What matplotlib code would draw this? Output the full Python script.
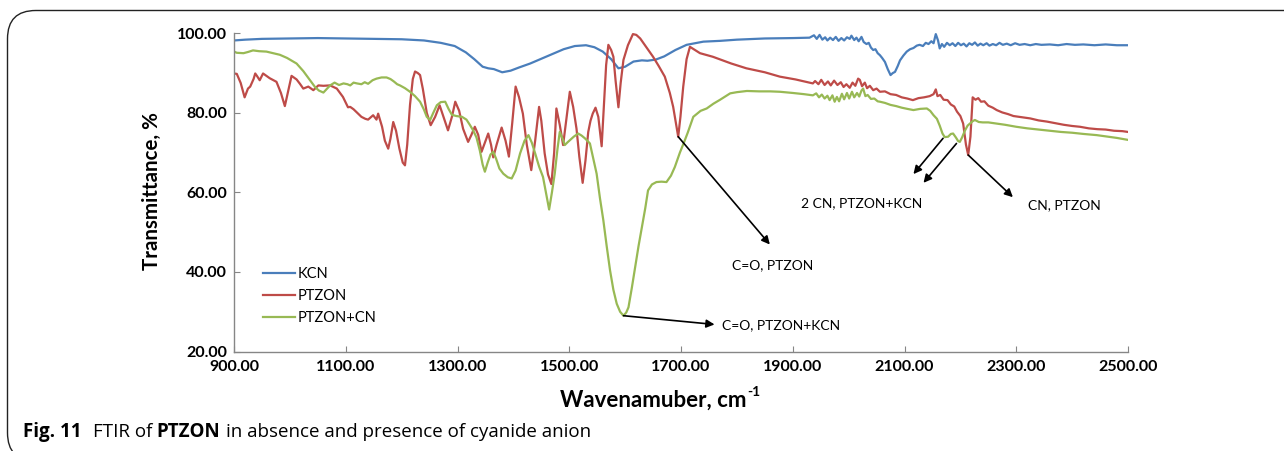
import matplotlib
matplotlib.use("Agg")
import matplotlib.pyplot as plt
from matplotlib.patches import FancyBboxPatch

plt.rcParams['font.family'] = ['Lato', 'DejaVu Sans']

# ---- data (wavenumber, transmittance %) ----
kcn_x = [900, 920, 950, 1000, 1050, 1100, 1150, 1200, 1240, 1270, 1295, 1315,
         1330, 1345, 1355, 1365, 1380, 1395, 1410, 1430, 1450, 1470, 1490, 1510,
         1530, 1545, 1560, 1575, 1588, 1600, 1615, 1630, 1640, 1655, 1670, 1690,
         1710, 1740, 1770, 1800, 1850, 1900, 1930,
         1938, 1943, 1948, 1953, 1958, 1962, 1967, 1972, 1977, 1982, 1987, 1992,
         1997, 2002, 2005, 2010, 2014, 2018, 2023, 2027, 2032, 2036, 2040, 2044,
         2048, 2052, 2056, 2060, 2065, 2070, 2075, 2079, 2083, 2088, 2092, 2098,
         2104, 2110, 2116, 2122, 2127, 2133, 2138, 2143, 2148, 2152, 2156, 2160,
         2163, 2167, 2171, 2176, 2181, 2186, 2191, 2196, 2201, 2206, 2211, 2216,
         2221, 2226, 2231, 2236, 2241, 2247, 2252, 2258, 2264, 2270, 2276, 2283,
         2290, 2298, 2306, 2315, 2325, 2335, 2345, 2360, 2375, 2390, 2405, 2420,
         2440, 2460, 2480, 2500]
kcn_y = [98.2, 98.4, 98.6, 98.7, 98.8, 98.7, 98.6, 98.5, 98.2, 97.6, 96.8, 95.2,
         93.5, 91.6, 91.2, 91.0, 90.2, 90.6, 91.4, 92.4, 93.6, 94.8, 96.0, 96.8,
         97.0, 96.5, 95.4, 93.5, 91.2, 91.6, 92.9, 93.2, 93.1, 93.4, 94.2, 95.8,
         97.1, 97.9, 98.1, 98.4, 98.7, 98.8, 98.9,
         99.5, 98.6, 99.6, 98.4, 99.0, 98.2, 98.9, 98.3, 99.1, 98.1, 98.8, 98.2,
         99.0, 98.6, 99.4, 98.3, 98.9, 98.0, 99.1, 97.8, 97.3, 97.6, 96.4, 95.8,
         96.0, 95.0, 94.5, 93.8, 92.8, 91.0, 89.5, 90.0, 90.3, 91.8, 93.2, 94.4,
         95.4, 96.0, 96.3, 96.9, 97.1, 96.8, 97.6, 97.3, 98.0, 97.5, 99.8, 98.2,
         96.2, 97.3, 96.6, 97.6, 97.0, 97.5, 96.8, 97.6, 97.0, 97.4, 96.7, 97.5,
         97.1, 97.7, 96.9, 97.4, 97.0, 97.5, 96.9, 97.3, 97.0, 97.6, 97.1, 97.4,
         97.0, 97.5, 97.1, 97.3, 97.0, 97.3, 97.1, 97.2, 97.0, 97.3, 97.1, 97.2,
         97.0, 97.2, 97.0, 97.0]

ptzon_x = [900, 905, 912, 919, 925, 929, 935, 938, 941, 946, 952, 958, 964, 976,
           984, 991, 997, 1003, 1012, 1018, 1024, 1033, 1042, 1051, 1060, 1072,
           1084, 1095, 1104, 1108, 1114, 1122, 1128, 1135, 1140, 1149, 1155, 1158,
           1165, 1170, 1176, 1180, 1185, 1190, 1196, 1202, 1206, 1210, 1215, 1220,
           1224, 1229, 1233, 1238, 1245, 1252, 1260, 1268, 1275, 1283, 1290, 1296,
           1303, 1310, 1319, 1325, 1331, 1337, 1343, 1349, 1355, 1360, 1364, 1370,
           1379, 1386, 1392, 1398, 1404, 1410, 1417, 1424, 1432, 1439, 1446, 1450,
           1456, 1462, 1468, 1473, 1477, 1483, 1489, 1495, 1501, 1507, 1513, 1518,
           1524, 1529, 1534, 1538, 1542, 1547, 1552, 1558, 1562, 1566, 1570, 1575,
           1579, 1583, 1588, 1592, 1597, 1605, 1614, 1620, 1627, 1638, 1650, 1660,
           1671, 1680, 1686, 1695, 1699, 1704, 1710, 1716, 1725, 1734, 1757, 1790,
           1817, 1850, 1877, 1905, 1936,
           1940, 1946, 1951, 1957, 1963, 1968, 1974, 1980, 1986, 1991, 1996, 2002,
           2007, 2012, 2017, 2020, 2024, 2029, 2033, 2038, 2044, 2050, 2056, 2065,
           2075, 2085, 2095, 2105, 2115, 2125, 2135, 2145, 2152, 2156, 2159, 2164,
           2170, 2177, 2183, 2189, 2194, 2200, 2205, 2210, 2214, 2218, 2222, 2227,
           2232, 2237, 2243, 2250, 2258, 2265, 2275, 2285, 2295, 2310, 2325, 2340,
           2355, 2370, 2385, 2400, 2414, 2430, 2445, 2460, 2475, 2490, 2500]
ptzon_y = [89.9, 89.8, 87.5, 83.9, 86.1, 86.6, 88.5, 89.9, 89.3, 88.2, 89.9, 89.3,
           88.7, 87.8, 85.0, 81.7, 85.5, 89.3, 88.4, 87.3, 86.1, 86.6, 85.7, 86.9,
           86.8, 86.9, 86.1, 84.0, 81.4, 81.5, 80.9, 79.8, 79.0, 78.5, 78.3, 79.4,
           78.3, 79.8, 76.5, 73.0, 71.0, 73.5, 77.7, 75.5, 71.0, 67.5, 66.8, 72.0,
           82.0, 88.5, 90.4, 90.0, 89.5, 86.0, 80.0, 76.9, 79.0, 81.9, 79.0, 75.6,
           79.0, 82.8, 80.5, 76.0, 72.7, 74.5, 76.5, 74.5, 70.2, 72.5, 74.8, 72.0,
           68.8, 72.0, 76.3, 73.0, 69.0, 77.5, 86.6, 84.0, 79.8, 72.0, 65.6, 73.0,
           81.5, 78.0, 69.8, 64.5, 62.1, 70.0, 81.1, 77.0, 71.9, 78.5, 85.3, 81.5,
           76.0, 69.0, 62.4, 68.0, 75.2, 78.0, 79.8, 81.3, 79.0, 71.6, 82.0, 92.0,
           97.1, 95.8, 94.1, 88.0, 81.4, 87.5, 93.3, 97.0, 99.8, 99.6, 98.7, 96.5,
           94.1, 91.8, 89.1, 85.0, 81.5, 74.0, 79.0, 86.6, 93.5, 96.6, 95.8, 95.0,
           94.1, 92.4, 91.2, 90.2, 89.1, 88.4, 87.4,
           88.0, 87.2, 88.3, 87.0, 87.9, 86.9, 88.1, 87.0, 87.7, 86.5, 87.2, 86.3,
           87.6, 86.8, 88.6, 88.3, 86.7, 87.6, 86.2, 86.8, 85.7, 86.1, 85.3, 85.4,
           84.7, 84.5, 83.9, 83.6, 83.2, 83.7, 83.9, 84.2, 84.7, 85.9, 84.2, 84.5,
           83.3, 83.2, 82.1, 81.6, 80.3, 79.2, 77.3, 72.0, 69.4, 74.0, 83.9, 83.3,
           83.7, 82.8, 82.9, 81.8, 81.3, 80.7, 80.1, 79.7, 79.2, 78.9, 78.6, 78.1,
           77.8, 77.4, 77.0, 76.7, 76.5, 76.1, 75.9, 75.8, 75.5, 75.4, 75.2]

ptzon_cn_x = [900, 905, 917, 925, 934, 945, 958, 970, 982, 995, 1012, 1024, 1036,
              1045, 1052, 1060, 1066, 1072, 1080, 1088, 1096, 1103, 1108, 1114,
              1120, 1128, 1134, 1140, 1148, 1155, 1164, 1173, 1180, 1186, 1192,
              1197, 1206, 1215, 1224, 1233, 1240, 1245, 1251, 1256, 1263, 1270,
              1278, 1284, 1290, 1298, 1308, 1316, 1322, 1328, 1334, 1340, 1345,
              1349, 1354, 1359, 1364, 1369, 1375, 1382, 1390, 1397, 1404, 1412,
              1420, 1427, 1433, 1439, 1446, 1453, 1459, 1464, 1469, 1474, 1479,
              1483, 1488, 1492, 1497, 1501, 1508, 1516, 1522, 1528, 1533, 1537,
              1543, 1549, 1555, 1561, 1567, 1573, 1579, 1585, 1591, 1597, 1602,
              1606, 1612, 1618, 1624, 1630, 1636, 1641, 1648, 1656, 1665, 1674,
              1682, 1689, 1698, 1706, 1712, 1722, 1735, 1746, 1758, 1770, 1788,
              1800, 1818, 1840, 1860, 1877, 1900, 1920, 1936,
              1942, 1947, 1952, 1957, 1962, 1966, 1971, 1975, 1979, 1983, 1988,
              1992, 1997, 2001, 2006, 2010, 2015, 2019, 2023, 2026, 2030, 2034,
              2040, 2046, 2052, 2056, 2065, 2075, 2085, 2095, 2105, 2116, 2128,
              2140, 2146, 2152, 2158, 2163, 2168, 2172, 2178, 2183, 2187, 2192,
              2196, 2199, 2203, 2208, 2213, 2217, 2222, 2226, 2233, 2240, 2250,
              2265, 2280, 2300, 2320, 2340, 2354, 2380, 2400, 2420, 2444, 2460,
              2480, 2500]
ptzon_cn_y = [95.4, 95.1, 95.0, 95.3, 95.7, 95.5, 95.4, 95.0, 94.6, 93.8, 92.4,
              90.5, 88.2, 86.5, 85.6, 85.1, 86.0, 86.9, 87.6, 87.0, 87.4, 87.2,
              86.9, 87.6, 87.4, 87.2, 87.7, 87.3, 88.2, 88.6, 88.9, 88.9, 88.5,
              87.9, 87.2, 86.9, 86.2, 85.3, 84.2, 82.8, 80.8, 79.0, 78.2, 79.8,
              81.9, 82.7, 82.8, 81.0, 79.5, 79.2, 79.0, 78.3, 77.0, 75.6, 73.8,
              70.5, 67.0, 65.2, 67.5, 69.5, 70.2, 68.5, 66.0, 64.7, 63.8, 63.5,
              65.5, 69.8, 73.0, 74.4, 72.5, 69.8, 66.5, 63.9, 59.5, 55.7, 60.0,
              64.7, 71.0, 75.2, 73.5, 71.9, 72.6, 73.1, 74.0, 74.8, 74.3, 73.6,
              72.9, 72.3, 68.5, 64.7, 58.5, 53.0, 46.5, 40.4, 35.5, 32.0, 30.0,
              29.0, 29.8, 31.1, 36.0, 41.2, 46.5, 51.2, 56.0, 60.5, 62.0, 62.6,
              62.7, 62.6, 64.2, 66.4, 70.0, 72.8, 75.0, 79.0, 80.5, 81.1, 82.3,
              83.3, 84.9, 85.2, 85.5, 85.4, 85.4, 85.3, 85.0, 84.7, 84.4,
              84.9, 83.9, 84.6, 83.6, 84.3, 83.2, 84.4, 82.8, 84.0, 82.9, 84.8,
              83.4, 85.0, 83.6, 85.3, 83.9, 85.0, 84.1, 85.6, 86.1, 84.2, 84.5,
              83.5, 83.6, 82.9, 82.8, 82.5, 82.0, 81.7, 81.3, 81.0, 80.7, 81.0,
              81.1, 80.5, 79.4, 78.5, 76.8, 74.8, 73.9, 74.0, 74.7, 74.8, 73.8,
              72.9, 72.7, 73.8, 75.5, 76.8, 77.3, 77.9, 78.2, 77.7, 77.6, 77.6,
              77.3, 77.0, 76.5, 76.1, 75.8, 75.6, 75.2, 75.0, 74.7, 74.4, 74.1,
              73.7, 73.2]

series_names = ["KCN", "PTZON", "PTZON+CN"]
series_colors = ["#4A7EBB", "#BE4B48", "#98B954"]

x_ticks = [900, 1100, 1300, 1500, 1700, 1900, 2100, 2300, 2500]
y_ticks = [20, 40, 60, 80, 100]

W, H = 1284, 451
fig = plt.figure(figsize=(W / 100, H / 100), dpi=100)

# rounded frame around the figure panel (right/bottom run off the image)
frame = FancyBboxPatch((7.5 / W, -10 / H), 1.05, (440.5 + 10) / H,
                       boxstyle="round,pad=0,rounding_size=0.022",
                       transform=fig.transFigure, fill=False,
                       edgecolor="#222222", linewidth=1.0, clip_on=False,
                       mutation_aspect=W / H)
fig.patches.append(frame)

ax = fig.add_axes([234 / W, (H - 351.5) / H, 894 / W, 318.2 / H])

for xs, ys, name, col in zip([kcn_x, ptzon_x, ptzon_cn_x],
                             [kcn_y, ptzon_y, ptzon_cn_y],
                             series_names, series_colors):
    ax.plot(xs, ys, color=col, linewidth=1.6, label=name)

ax.set_xlim(900, 2500)
ax.set_ylim(20, 100)
ax.set_xticks(x_ticks)
ax.set_yticks(y_ticks)
ax.set_xticklabels([f"{v:.2f}" for v in x_ticks], fontweight="bold", fontsize=11.5)
ax.set_yticklabels([f"{v:.2f}" for v in y_ticks], fontweight="bold", fontsize=11.5)

for side in ["top", "right"]:
    ax.spines[side].set_visible(False)
for side in ["left", "bottom"]:
    ax.spines[side].set_color("#868686")
    ax.spines[side].set_linewidth(1.0)
ax.tick_params(axis="both", direction="in", length=4, color="#868686")
ax.tick_params(axis="x", pad=6)
ax.tick_params(axis="y", pad=5)

fig.text(152 / W, 1 - 191 / H, "Transmittance, %", rotation=90,
         ha="center", va="center", fontsize=14.8, fontweight="bold")

ax.legend(loc="upper left", bbox_to_anchor=(0.026, 0.285), frameon=False,
          fontsize=10.5, handlelength=2.2, handletextpad=0.2, labelspacing=0.55,
          borderaxespad=0)

arrow = dict(arrowstyle="-|>", color="black", lw=1.2, mutation_scale=12,
             shrinkA=0, shrinkB=0)
ax.annotate("", xy=(1859, 46.9), xytext=(1695, 74.0), arrowprops=arrow)
ax.text(1864, 41.7, "C=O, PTZON", ha="center", va="center", fontsize=10)
ax.annotate("", xy=(1760, 26.8), xytext=(1597, 29.0), arrowprops=arrow)
ax.text(1773, 26.5, "C=O, PTZON+KCN", ha="left", va="center", fontsize=10)
ax.annotate("", xy=(2116, 64.6), xytext=(2169, 73.6), arrowprops=arrow)
ax.annotate("", xy=(2134, 62.4), xytext=(2193, 72.3), arrowprops=arrow)
ax.text(2023, 57.3, "2 CN, PTZON+KCN", ha="center", va="center", fontsize=10)
ax.annotate("", xy=(2294, 58.8), xytext=(2214, 69.4), arrowprops=arrow)
ax.text(2387, 56.8, "CN, PTZON", ha="center", va="center", fontsize=10)

fig.canvas.draw()
renderer = fig.canvas.get_renderer()

# x-axis label with a small raised "-1"
xl = fig.text(560 / W, 1 - 400 / H, "Wavenamuber, cm", ha="left", va="center",
              fontsize=16, fontweight="bold")
bb = xl.get_window_extent(renderer=renderer)
fig.text((bb.x1 + 1) / W, 1 - 392 / H, "-1", ha="left", va="center",
         fontsize=10, fontweight="bold")

# caption with mixed weights, laid out piece by piece
cap_family = ["Open Sans", "DejaVu Sans"]
pieces = [("Fig. 11", "bold", 12), ("FTIR of", "normal", 4), ("PTZON", "bold", 6),
          ("in absence and presence of cyanide anion", "normal", 0)]
xpos = 23
for txt, weight, gap in pieces:
    t = fig.text(xpos / W, 1 - 432 / H, txt, ha="left", va="center",
                 fontsize=13.5, fontweight=weight, family=cap_family)
    bb = t.get_window_extent(renderer=renderer)
    xpos = bb.x1 + gap

fig.savefig("out.png", dpi=100)
